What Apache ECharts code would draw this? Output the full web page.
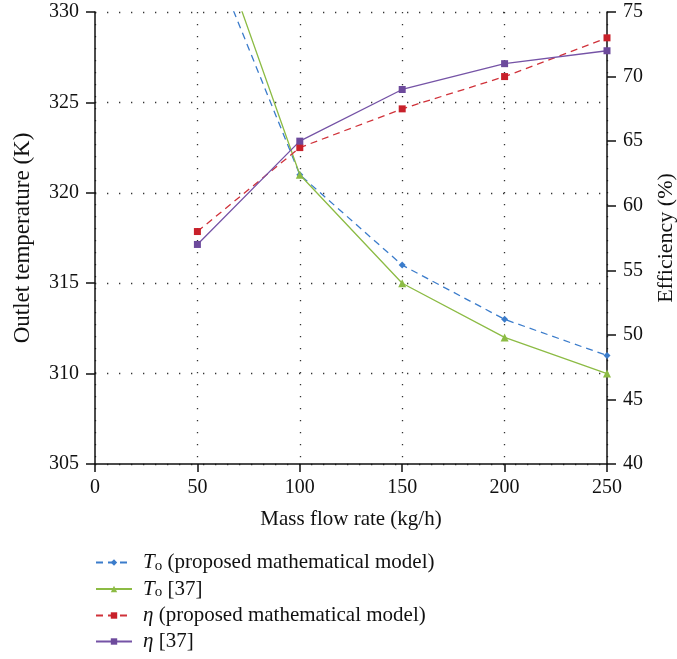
<!DOCTYPE html>
<html>
<head>
<meta charset="utf-8">
<script src="https://cdn.jsdelivr.net/npm/echarts@6/dist/echarts.min.js"></script>
<style>html,body{margin:0;padding:0;background:#fff}#c{width:677px;height:659px}</style>
</head>
<body>
<div id="c"></div>
<script>
var massFlow = [50, 100, 150, 200, 250];
var toModel = [335, 321, 316, 313, 311];
var toRef = [337, 321, 315, 312, 310];
var etaModel = [58, 64.5, 67.5, 70, 73];
var etaRef = [57, 65, 69, 71, 72];
var seriesNames = ['To (proposed mathematical model)', 'To [37]', 'η (proposed mathematical model)', 'η [37]'];
var legendLabels = [
  '{it|T}{sub|o} (proposed mathematical model)',
  '{it|T}{sub|o} [37]',
  '{it|η} (proposed mathematical model)',
  '{it|η} [37]'
];

function pairs(ys) { return massFlow.map(function (x, i) { return [x, ys[i]]; }); }

var FONT = 'Liberation Serif';
var FS = 20;
var chart = echarts.init(document.getElementById('c'));
var dotted = { color: '#333', width: 1.3, type: [1.3, 10.7] };

chart.setOption({
  animation: false,
  textStyle: { fontFamily: FONT, color: '#111' },
  grid: { left: 95, right: 70, top: 12, bottom: 195, outerBoundsMode: 'none', containLabel: false },
  legend: {
    orient: 'vertical', left: 90, top: 547, itemGap: 5, itemWidth: 36, itemHeight: 8,
    textStyle: {
      fontFamily: FONT, fontSize: 21, color: '#111', padding: [0, 0, 0, 6],
      rich: {
        it: { fontFamily: FONT, fontStyle: 'italic', fontSize: 21 },
        sub: { fontFamily: FONT, fontSize: 15, verticalAlign: 'bottom', padding: [7, 0, 0, 0] }
      }
    },
    formatter: function (name) { return legendLabels[seriesNames.indexOf(name)]; },
    data: seriesNames
  },
  xAxis: {
    type: 'value', min: 0, max: 250, interval: 50,
    name: 'Mass flow rate (kg/h)', nameLocation: 'middle', nameGap: 45,
    nameTextStyle: { fontFamily: FONT, fontSize: 21, color: '#111' },
    axisLine: { lineStyle: { color: '#111', width: 1.5 } },
    axisTick: { inside: false, length: 8, lineStyle: { color: '#111', width: 1.5 } },
    axisLabel: { fontFamily: FONT, fontSize: FS, color: '#111', margin: 14 },
    splitLine: { show: true, lineStyle: dotted }
  },
  yAxis: [{
    type: 'value', min: 305, max: 330, interval: 5,
    name: 'Outlet temperature (K)', nameLocation: 'middle', nameGap: 61, nameMoveOverlap: false,
    nameTextStyle: { fontFamily: FONT, fontSize: 23, color: '#111' },
    axisLine: { show: true, lineStyle: { color: '#111', width: 1.5 } },
    axisTick: { show: true, length: 9, lineStyle: { color: '#111', width: 1.5 } },
    axisLabel: { fontFamily: FONT, fontSize: FS, color: '#111', margin: 16 },
    splitLine: { show: true, lineStyle: dotted }
  }, {
    type: 'value', min: 40, max: 75, interval: 5, position: 'right',
    name: 'Efficiency (%)', nameLocation: 'middle', nameGap: 48, nameRotate: 90, nameMoveOverlap: false,
    nameTextStyle: { fontFamily: FONT, fontSize: 22, color: '#111' },
    axisLine: { show: true, lineStyle: { color: '#111', width: 1.5 } },
    axisTick: { show: true, length: 9, lineStyle: { color: '#111', width: 1.5 } },
    axisLabel: { fontFamily: FONT, fontSize: FS, color: '#111', margin: 16 },
    splitLine: { show: false }
  }],
  series: [{
    name: seriesNames[0], type: 'line', yAxisIndex: 0, data: pairs(toModel),
    symbol: 'diamond', symbolSize: 7, clip: true,
    lineStyle: { color: '#3b7ccb', width: 1.3, type: [7, 5] },
    itemStyle: { color: '#3b7ccb' }
  }, {
    name: seriesNames[1], type: 'line', yAxisIndex: 0, data: pairs(toRef),
    symbol: 'triangle', symbolSize: 8, clip: true,
    lineStyle: { color: '#8cbb44', width: 1.3 },
    itemStyle: { color: '#8cbb44' }
  }, {
    name: seriesNames[2], type: 'line', yAxisIndex: 1, data: pairs(etaModel),
    symbol: 'rect', symbolSize: 7, clip: true,
    lineStyle: { color: '#d0323a', width: 1.3, type: [7, 5] },
    itemStyle: { color: '#c8202a' }
  }, {
    name: seriesNames[3], type: 'line', yAxisIndex: 1, data: pairs(etaRef),
    symbol: 'rect', symbolSize: 7, clip: true,
    lineStyle: { color: '#7553a6', width: 1.3 },
    itemStyle: { color: '#6d4a9c' }
  }]
});
</script>
</body>
</html>
